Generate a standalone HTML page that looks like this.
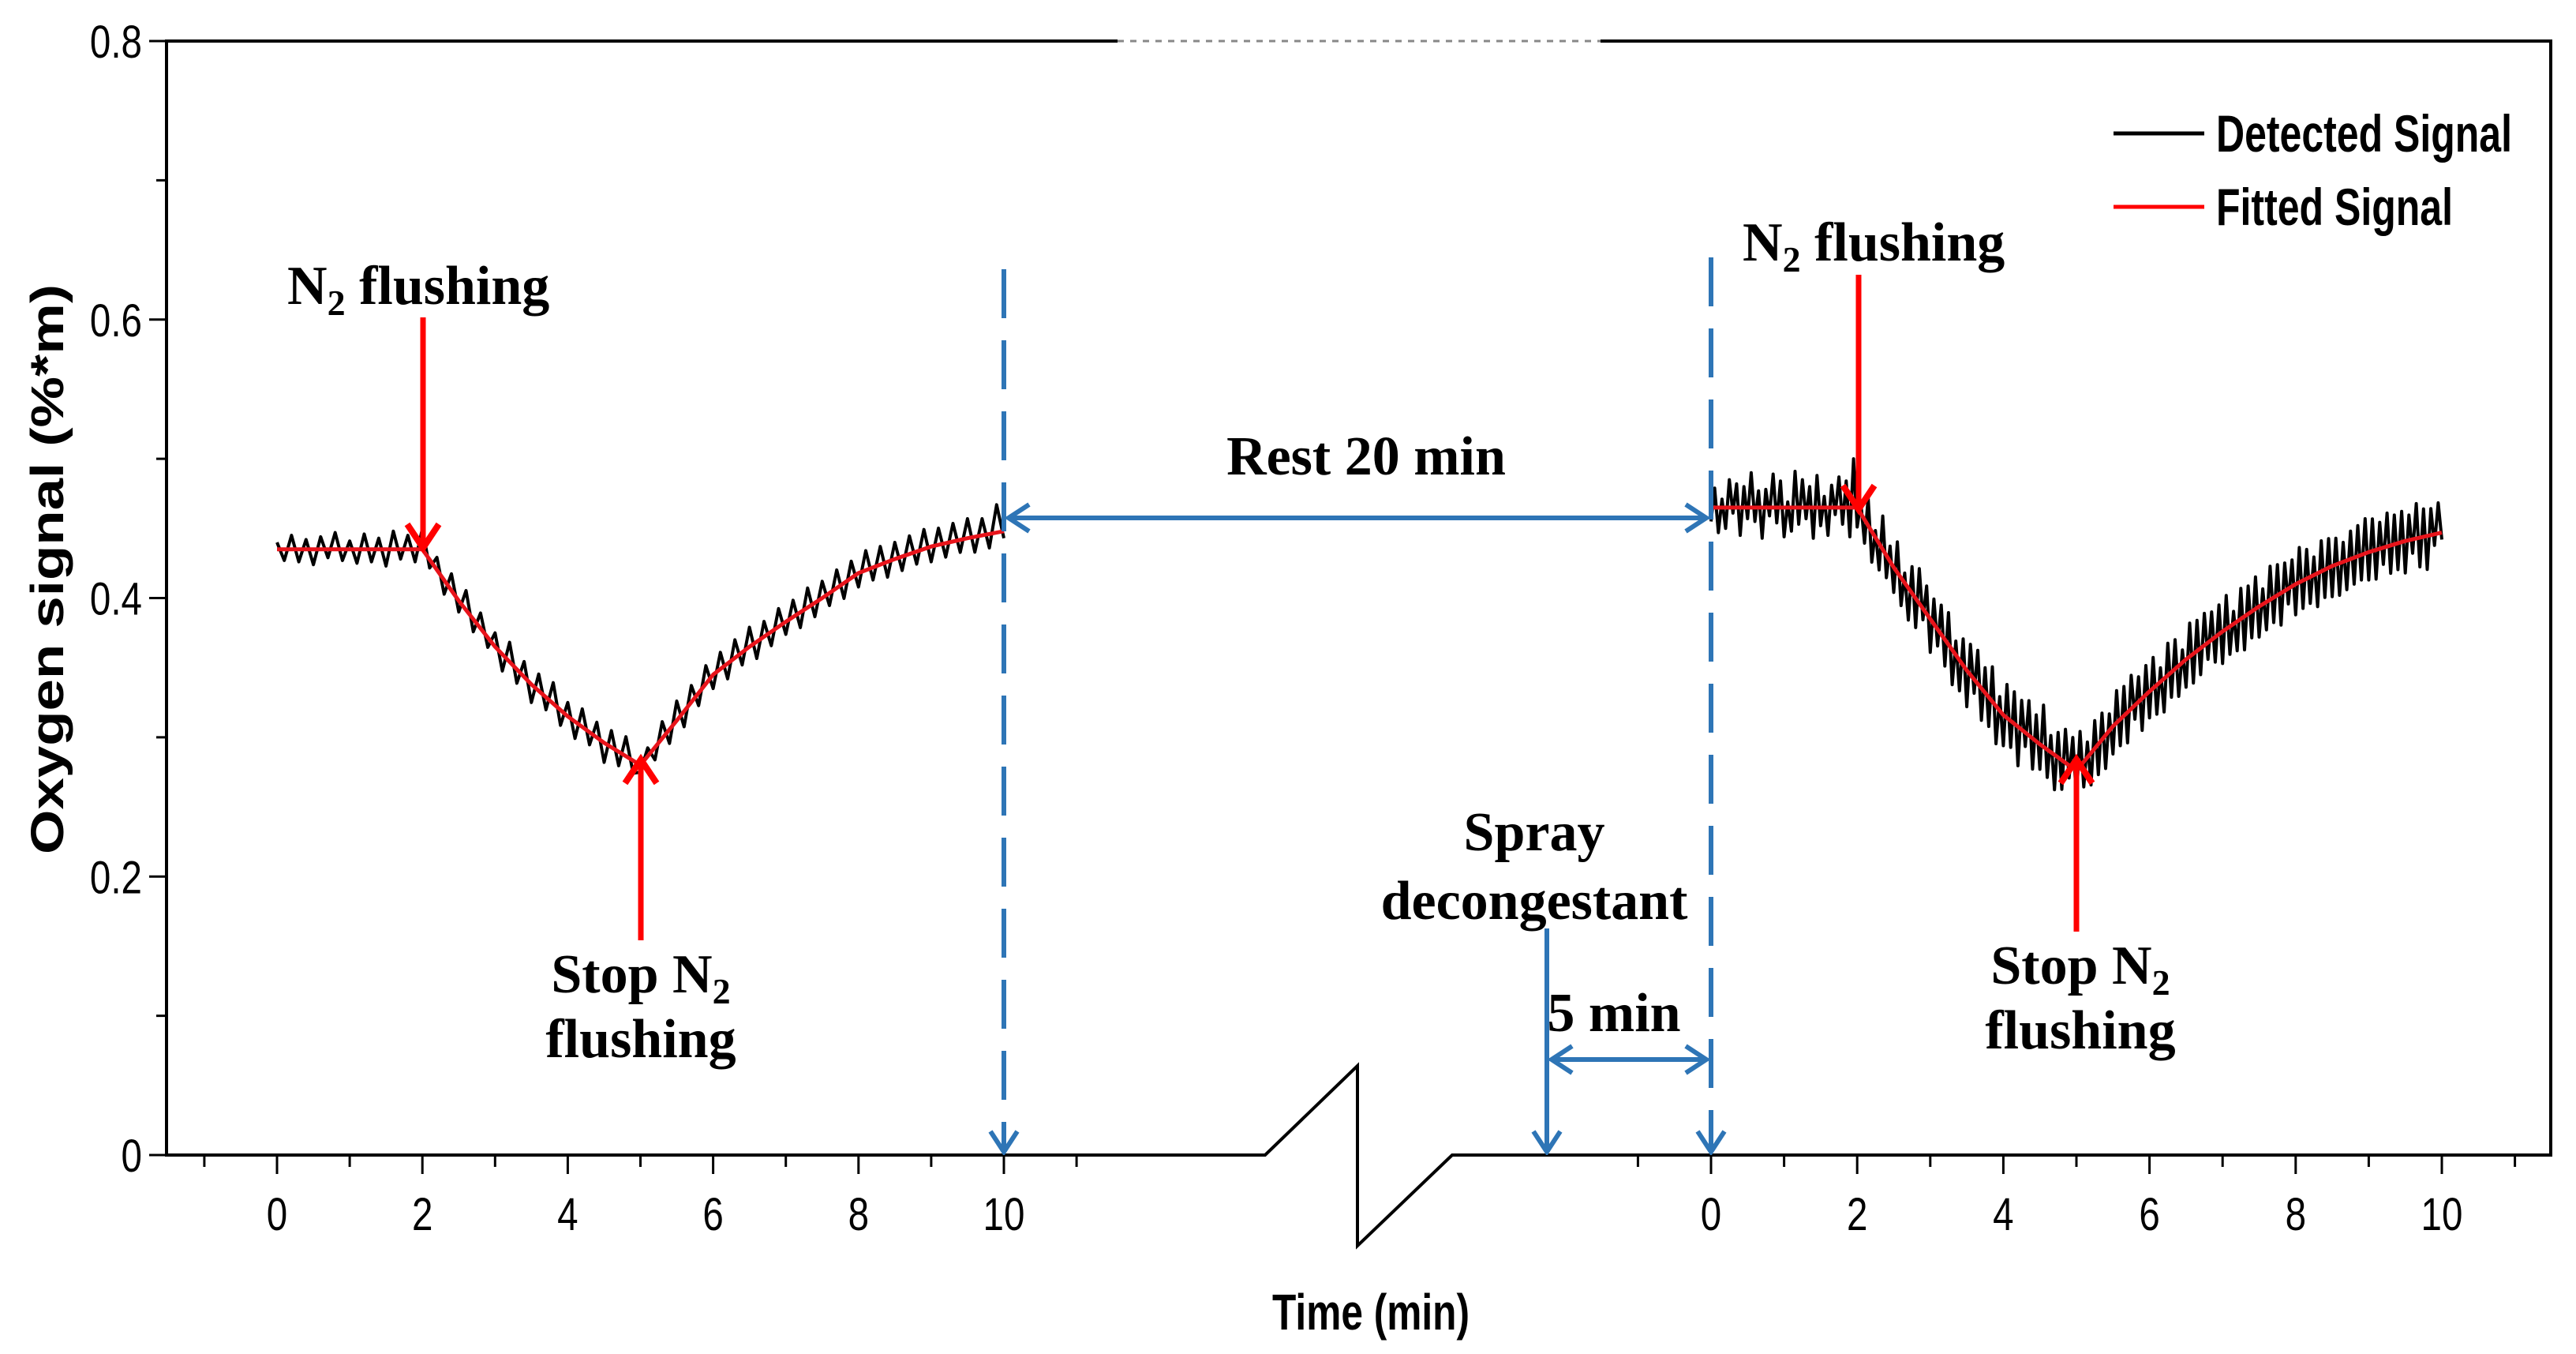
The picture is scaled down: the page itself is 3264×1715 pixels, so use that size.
<!DOCTYPE html>
<html><head><meta charset="utf-8">
<style>
html,body{margin:0;padding:0;background:#fff;}
svg{display:block;}
.tick{font-family:"Liberation Sans",sans-serif;font-size:58px;fill:#000;}
.ann{font-family:"Liberation Serif",serif;font-weight:bold;font-size:70px;fill:#000;}
.leg{font-family:"Liberation Sans",sans-serif;font-size:66px;fill:#000;}
</style></head>
<body>
<svg id="chart" width="3264" height="1715" viewBox="0 0 3264 1715" xmlns="http://www.w3.org/2000/svg">
<defs>
<marker id="ab" markerWidth="34" markerHeight="40" refX="30" refY="20" orient="auto" markerUnits="userSpaceOnUse" viewBox="0 0 34 40"><path d="M4,3 L30,20 L4,37" fill="none" stroke="#2e75b6" stroke-width="6"/></marker>
</defs>
<g id="frame"></g>
<g id="marks"></g>
<g id="annots"></g>
</svg>
<script>
// ---- data ----
const fitTimes = [0,0.5,1,1.5,2,2.5,3,3.5,4,4.5,5,5.5,6,6.5,7,7.5,8,8.5,9,9.5,10];
const fitLeft  = [0.435,0.435,0.435,0.435,0.435,0.398,0.365,0.338,0.315,0.296,0.280,0.312,0.345,0.365,0.383,0.400,0.418,0.428,0.437,0.443,0.448];
const fitRight = [0.465,0.465,0.465,0.465,0.465,0.422,0.385,0.348,0.316,0.295,0.276,0.308,0.333,0.356,0.376,0.394,0.410,0.423,0.433,0.441,0.447];
// detected-signal deviations from fit (units of 0.001), left: every 0.1 min
const noiseLeft = [5,-8,10,-9,7,-11,9,-6,12,-8,6,-10,11,-9,8,-12,13,-7,10,-9,15,-6,9,-10,12,-8,14,-9,11,-7,10,
 -12,14,-10,11,-13,12,-9,15,-11,10,-12,13,-9,11,-14,12,-10,14,-9,-5,6,-9,12,-10,14,-11,12,-9,13,-10,
 12,-11,13,-9,14,-12,11,-10,13,-9,12,-11,14,-10,12,-9,13,-11,12,-10,14,-9,13,-11,12,-10,13,-9,14,-11,
 12,-10,13,-9,14,-11,12,-10,20,-5];
// right: every 0.05 min
const noiseRight = [-10,14,-18,6,-15,20,-4,17,-20,15,-8,25,-10,12,-22,13,-6,24,-11,19,-21,4,-17,26,-12,20,-8,15,-22,23,
 -13,8,-20,16,-5,22,-12,19,-21,35,-14,8,-17,20,-22,5,-19,24,-16,11,-18,22,-20,7,-23,19,-21,25,-8,20,
 -24,18,-12,21,-19,23,-25,10,-22,19,-26,22,-10,24,-23,18,-21,25,-27,10,-22,24,-19,23,-28,21,-10,25,-22,19,
 -18,30,-20,12,-25,18,-21,24,-9,22,-20,25,-18,11,-23,20,-22,19,-24,12,-20,23,-19,21,-22,24,-10,18,-23,21,
 -19,22,-21,10,-24,23,-18,21,-22,9,-20,24,-21,22,-19,23,-12,20,-18,21,-23,24,-20,9,-21,22,-24,20,-19,23,
 -22,11,-20,24,-18,22,-23,20,-11,19,-22,25,-20,21,-19,13,-24,22,-20,21,-22,19,-23,14,-21,20,-19,22,-18,25,
 -20,23,-21,19,-12,24,-20,21,-19,22,-23,18,-10,25,-21,20,-24,19,-8,22,-5];
const xTickLabels = ["0","2","4","6","8","10"];
const yTickValues = [0,0.2,0.4,0.6,0.8];
const yTickLabels = ["0","0.2","0.4","0.6","0.8"];

// ---- axes ----
const Y0=1463, YTOP=52, YPX=(Y0-YTOP)/0.8;
const yS = v => Y0 - v*YPX;
const xL = t => 351 + t*92.1;
const xR = t => 2168 + t*92.6;
const NS='http://www.w3.org/2000/svg';
function mk(tag, attrs, parent, txt){const e=document.createElementNS(NS,tag);for(const k in attrs)e.setAttribute(k,attrs[k]);if(txt!==undefined)e.textContent=txt;parent.appendChild(e);return e;}
const frame=document.getElementById('frame'), marks=document.getElementById('marks'), an=document.getElementById('annots');
function interp(arr,t){const i=Math.min(Math.floor(t/0.5),arr.length-2);const f=(t-i*0.5)/0.5;return arr[i]+(arr[i+1]-arr[i])*f;}

let e;
e=mk('line',{x1:211,y1:YTOP,x2:211,y2:Y0,stroke:'#000','stroke-width':4},frame);


e=mk('line',{x1:3232,y1:YTOP,x2:3232,y2:Y0,stroke:'#000','stroke-width':4},frame);


e=mk('line',{x1:209,y1:YTOP,x2:1416,y2:YTOP,stroke:'#000','stroke-width':4},frame);


e=mk('line',{x1:1416,y1:YTOP,x2:2028,y2:YTOP,stroke:'#888','stroke-width':3,'stroke-dasharray':'8 8'},frame);


e=mk('line',{x1:2028,y1:YTOP,x2:3234,y2:YTOP,stroke:'#000','stroke-width':4},frame);


e=mk('polyline',{points:`209,${Y0} 1603,${Y0} 1720,1350 1720,1578 1840,${Y0} 3234,${Y0}`,fill:'none',stroke:'#000','stroke-width':4},frame);



for(let i=0;i<=8;i++){const v=i*0.1;const major=i%2===0;
 e=mk('line',{x1:211,x2:major?189:198,y1:yS(v),y2:yS(v),stroke:'#000','stroke-width':3},frame);
 
 }
yTickValues.forEach((v,i)=>{
 e=mk('text',{x:0,y:0,'text-anchor':'end',class:'tick',transform:`translate(180,${yS(v)+21}) scale(0.82,1)`},frame,yTickLabels[i]);
 
 });
[xL,xR].forEach((sc,si)=>{
 for(let t=-1;t<=11;t++){
  e=mk('line',{x1:sc(t),x2:sc(t),y1:Y0,y2:Y0+(t%2===0?24:15),stroke:'#000','stroke-width':3},frame);
  
  }
 xTickLabels.forEach((l,i)=>{const t=i*2;
  e=mk('text',{x:0,y:0,'text-anchor':'middle',class:'tick',transform:`translate(${sc(t)},1558) scale(0.82,1)`},frame,l);
  
  });
});
e=mk('text',{x:0,y:0,transform:'translate(80,721) rotate(-90)','text-anchor':'middle','font-family':'Liberation Sans, sans-serif','font-weight':'bold','font-size':58,textLength:722,lengthAdjust:'spacingAndGlyphs'},frame,'Oxygen signal (%*m)');


e=mk('text',{x:1612,y:1684,'font-family':'Liberation Sans, sans-serif','font-weight':'bold','font-size':64,textLength:250,lengthAdjust:'spacingAndGlyphs'},frame,'Time (min)');



function detPath(sc,fit,noise,step){let p='';noise.forEach((n,i)=>{const t=Math.min(i*step,10);p+=(i?'L':'M')+sc(t).toFixed(1)+','+yS(interp(fit,t)+n/1000).toFixed(1);});return p;}
function fitPath(sc,fit){return fit.map((v,i)=>(i?'L':'M')+sc(fitTimes[i]).toFixed(1)+','+yS(v).toFixed(1)).join('');}
e=mk('path',{d:detPath(xL,fitLeft,noiseLeft,0.1),fill:'none',stroke:'#000','stroke-width':4,'stroke-linejoin':'round'},marks);


e=mk('path',{d:detPath(xR,fitRight,noiseRight,0.05),fill:'none',stroke:'#000','stroke-width':4,'stroke-linejoin':'round'},marks);


e=mk('path',{d:fitPath(xL,fitLeft),fill:'none',stroke:'#e8141b','stroke-width':5,'stroke-linejoin':'round'},marks);


e=mk('path',{d:fitPath(xR,fitRight),fill:'none',stroke:'#e8141b','stroke-width':5,'stroke-linejoin':'round'},marks);



function redArrow(x,y1,y2,name){
 const d=y2>y1?1:-1;
 e=mk('line',{x1:x,y1:y1,x2:x,y2:y2-d*6,stroke:'#ff0000','stroke-width':7},an);
 
 
 e=mk('path',{d:`M${x-20},${y2-d*30} L${x},${y2} L${x+20},${y2-d*30}`,fill:'none',stroke:'#ff0000','stroke-width':8,'stroke-linejoin':'miter'},an);
 
 }
redArrow(536,402,694,'n2-flushing-arrow-left');
redArrow(812,1191,962,'stop-n2-arrow-left');
redArrow(2355,348,645,'n2-flushing-arrow-right');
redArrow(2631,1180,962,'stop-n2-arrow-right');

function txt(x,y,html,name,anchor){e=mk('text',{x:x,y:y,'text-anchor':anchor||'middle',class:'ann'},an);e.innerHTML=html;
 
 }
txt(364,385,'N<tspan font-size="46" dy="14">2</tspan><tspan dy="-14"> flushing</tspan>','n2-flushing-label-left','start');
txt(812,1257,'Stop N<tspan font-size="46" dy="14">2</tspan>','stop-n2-label-left');
txt(812,1339,'flushing','stop-n2-label-left-2');
txt(2208,330,'N<tspan font-size="46" dy="14">2</tspan><tspan dy="-14"> flushing</tspan>','n2-flushing-label-right','start');
txt(2636,1246,'Stop N<tspan font-size="46" dy="14">2</tspan>','stop-n2-label-right');
txt(2636,1328,'flushing','stop-n2-label-right-2');
txt(1731,601,'Rest 20 min','rest-20-min-label');
txt(1944,1077,'Spray','spray-label');
txt(1944,1164,'decongestant','decongestant-label');
txt(2045,1306,'5 min','five-min-label');

function blue(attrs,name){e=mk('line',Object.assign({stroke:'#2e75b6','stroke-width':6},attrs),an);
 
 }
blue({x1:xL(10),y1:341,x2:xL(10),y2:Y0-4,'stroke-dasharray':'62 28','marker-end':'url(#ab)'},'dashed-line-end-first');
blue({x1:xR(0),y1:326,x2:xR(0),y2:Y0-4,'stroke-dasharray':'62 28','marker-end':'url(#ab)'},'dashed-line-start-second');
blue({x1:1278,y1:656,x2:2162,y2:656,'marker-end':'url(#ab)'},'rest-arrow');
blue({x1:2162,y1:656,x2:1278,y2:656,'marker-end':'url(#ab)'},'rest-arrow-back');
blue({x1:1960,y1:1176,x2:1960,y2:Y0-4,'marker-end':'url(#ab)'},'spray-arrow');
blue({x1:1966,y1:1342,x2:2162,y2:1342,'marker-end':'url(#ab)'},'five-min-arrow');
blue({x1:2162,y1:1342,x2:1966,y2:1342,'marker-end':'url(#ab)'},'five-min-arrow-back');

const lg=mk('g',{},an);


e=mk('line',{x1:2678,y1:169,x2:2793,y2:169,stroke:'#000','stroke-width':5},lg);


e=mk('text',{x:2808,y:192,class:'leg','font-weight':'bold',textLength:375,lengthAdjust:'spacingAndGlyphs'},lg,'Detected Signal');


e=mk('line',{x1:2678,y1:262,x2:2793,y2:262,stroke:'#ff0000','stroke-width':5},lg);


e=mk('text',{x:2808,y:285,class:'leg','font-weight':'bold',textLength:300,lengthAdjust:'spacingAndGlyphs'},lg,'Fitted Signal');


</script>
</body></html>
